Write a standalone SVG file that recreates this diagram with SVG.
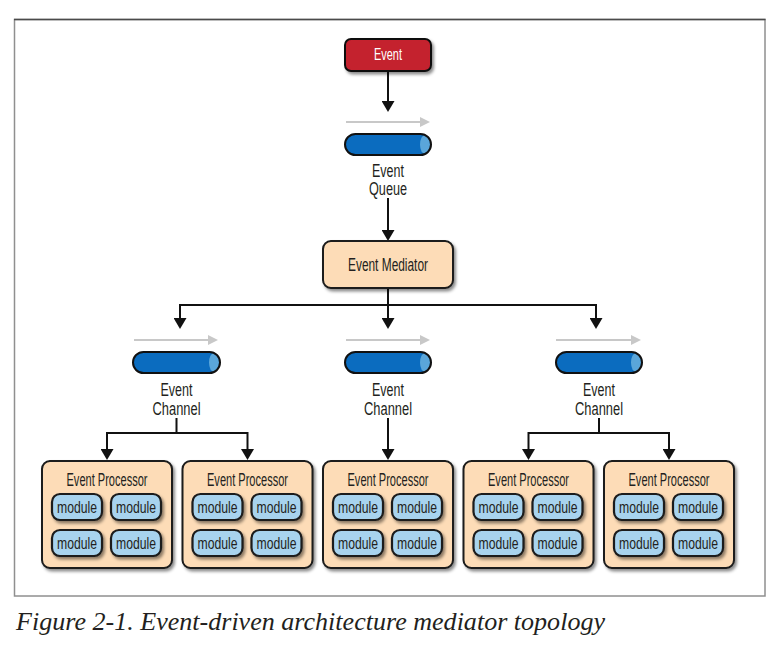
<svg xmlns="http://www.w3.org/2000/svg" width="773" height="649" viewBox="0 0 773 649">
<defs>
<style>
.lbl{font-family:"Liberation Sans",Arial,sans-serif;font-size:17.5px;fill:#231f20;text-anchor:middle}
.wlbl{font-family:"Liberation Sans",Arial,sans-serif;font-size:16px;fill:#ffffff;text-anchor:middle}
.mod{font-family:"Liberation Sans",Arial,sans-serif;font-size:17px;fill:#231f20;text-anchor:middle}
.proc{fill:#fddcb7;stroke:#1a1a1a;stroke-width:2;filter:url(#sh)}
.mbox{fill:#a8d3ee;stroke:#1a1a1a;stroke-width:2.2;filter:url(#sh)}
.cyl{fill:#0b6cbf}
.cap{fill:#5aa6da}
.cylo{fill:none;stroke:#111;stroke-width:2}
.con{fill:none;stroke:#111;stroke-width:2}
.flow{fill:none;stroke:#c8c8c8;stroke-width:2.2}
.cap2{font-family:"Liberation Serif","Times New Roman",serif;font-style:italic;font-size:25px;fill:#231f20}
</style>
<filter id="sh" x="-20%" y="-20%" width="150%" height="160%">
<feDropShadow dx="2" dy="2.5" stdDeviation="1.8" flood-color="#000" flood-opacity="0.45"/>
</filter>
<marker id="ah" viewBox="0 0 11 13" refX="0" refY="6.5" markerWidth="11" markerHeight="13" markerUnits="userSpaceOnUse" orient="auto">
<path d="M0,0 L11,6.5 L0,13 z" fill="#111"/>
</marker>
<marker id="gh" viewBox="0 0 10 10" refX="0" refY="5" markerWidth="10" markerHeight="10" markerUnits="userSpaceOnUse" orient="auto">
<path d="M0,0 L10,5 L0,10 z" fill="#c8c8c8"/>
</marker>
</defs>
<rect x="0" y="0" width="773" height="649" fill="#ffffff"/>
<rect x="14.5" y="19.5" width="750.5" height="576.5" fill="#ffffff" stroke="#8f8f8f" stroke-width="1.5"/>
<line x1="14" y1="19.5" x2="765.5" y2="19.5" stroke="#4a4a4a" stroke-width="1.5"/>

<g id="connectors">
<path class="con" d="M388 71 V101" marker-end="url(#ah)"/>
<path class="con" d="M388 198 V230" marker-end="url(#ah)"/>
<path class="con" d="M388 288 V305 M180 305 H596"/>
<path class="con" d="M180 304 V318" marker-end="url(#ah)"/>
<path class="con" d="M388 305 V318" marker-end="url(#ah)"/>
<path class="con" d="M596 304 V318" marker-end="url(#ah)"/>
<path class="con" d="M176.5 418 V433 M107 433 H247.5"/>
<path class="con" d="M107 432 V449" marker-end="url(#ah)"/>
<path class="con" d="M247.5 432 V449" marker-end="url(#ah)"/>
<path class="con" d="M388 418 V449" marker-end="url(#ah)"/>
<path class="con" d="M599 418 V433 M528.5 433 H669"/>
<path class="con" d="M528.5 432 V449" marker-end="url(#ah)"/>
<path class="con" d="M669 432 V449" marker-end="url(#ah)"/>
<path class="flow" d="M346 122 H420" marker-end="url(#gh)"/>
<path class="flow" d="M134 340 H208" marker-end="url(#gh)"/>
<path class="flow" d="M346 340 H420" marker-end="url(#gh)"/>
<path class="flow" d="M556 340 H631" marker-end="url(#gh)"/>
</g>

<g id="event">
<rect x="345" y="39" width="86" height="32" rx="6" fill="#c4202e" stroke="#111" stroke-width="2" filter="url(#sh)"/>
<text class="wlbl" x="388" y="60" textLength="28" lengthAdjust="spacingAndGlyphs">Event</text>
</g>

<g id="event-queue">
<rect class="cyl" x="345" y="134" width="86" height="21" rx="10.5"/>
<ellipse class="cap" cx="425" cy="144.5" rx="5" ry="9.5"/>
<rect class="cylo" x="345" y="134" width="86" height="21" rx="10.5"/>
<text class="lbl" x="388" y="176.5" textLength="32" lengthAdjust="spacingAndGlyphs">Event</text>
<text class="lbl" x="388" y="195" textLength="38" lengthAdjust="spacingAndGlyphs">Queue</text>
</g>

<g id="event-mediator">
<rect class="proc" x="323" y="241" width="130" height="47" rx="8"/>
<text class="lbl" x="388" y="271" textLength="80" lengthAdjust="spacingAndGlyphs">Event Mediator</text>
</g>

<g id="channel-1">
<rect class="cyl" x="133" y="352" width="87" height="21" rx="10.5"/>
<ellipse class="cap" cx="214" cy="362.5" rx="5" ry="9.5"/>
<rect class="cylo" x="133" y="352" width="87" height="21" rx="10.5"/>
<text class="lbl" x="176.5" y="395.5" textLength="32" lengthAdjust="spacingAndGlyphs">Event</text>
<text class="lbl" x="176.5" y="414.5" textLength="48" lengthAdjust="spacingAndGlyphs">Channel</text>
</g>

<g id="channel-2">
<rect class="cyl" x="345" y="352" width="86" height="21" rx="10.5"/>
<ellipse class="cap" cx="425" cy="362.5" rx="5" ry="9.5"/>
<rect class="cylo" x="345" y="352" width="86" height="21" rx="10.5"/>
<text class="lbl" x="388" y="395.5" textLength="32" lengthAdjust="spacingAndGlyphs">Event</text>
<text class="lbl" x="388" y="414.5" textLength="48" lengthAdjust="spacingAndGlyphs">Channel</text>
</g>

<g id="channel-3">
<rect class="cyl" x="556" y="352" width="86" height="21" rx="10.5"/>
<ellipse class="cap" cx="636" cy="362.5" rx="5" ry="9.5"/>
<rect class="cylo" x="556" y="352" width="86" height="21" rx="10.5"/>
<text class="lbl" x="599" y="395.5" textLength="32" lengthAdjust="spacingAndGlyphs">Event</text>
<text class="lbl" x="599" y="414.5" textLength="48" lengthAdjust="spacingAndGlyphs">Channel</text>
</g>

<g id="processor-1">
<rect class="proc" x="42" y="461" width="130" height="107" rx="8"/>
<text class="lbl" x="107" y="485.5" textLength="81" lengthAdjust="spacingAndGlyphs">Event Processor</text>
<rect class="mbox" x="52" y="494" width="50" height="26" rx="8"/>
<rect class="mbox" x="111" y="494" width="50" height="26" rx="8"/>
<rect class="mbox" x="52" y="530" width="50" height="26" rx="8"/>
<rect class="mbox" x="111" y="530" width="50" height="26" rx="8"/>
<text class="mod" x="77" y="513" textLength="40" lengthAdjust="spacingAndGlyphs">module</text>
<text class="mod" x="136" y="513" textLength="40" lengthAdjust="spacingAndGlyphs">module</text>
<text class="mod" x="77" y="549" textLength="40" lengthAdjust="spacingAndGlyphs">module</text>
<text class="mod" x="136" y="549" textLength="40" lengthAdjust="spacingAndGlyphs">module</text>
</g>

<g id="processor-2">
<rect class="proc" x="182.5" y="461" width="130" height="107" rx="8"/>
<text class="lbl" x="247.5" y="485.5" textLength="81" lengthAdjust="spacingAndGlyphs">Event Processor</text>
<rect class="mbox" x="192.5" y="494" width="50" height="26" rx="8"/>
<rect class="mbox" x="251.5" y="494" width="50" height="26" rx="8"/>
<rect class="mbox" x="192.5" y="530" width="50" height="26" rx="8"/>
<rect class="mbox" x="251.5" y="530" width="50" height="26" rx="8"/>
<text class="mod" x="217.5" y="513" textLength="40" lengthAdjust="spacingAndGlyphs">module</text>
<text class="mod" x="276.5" y="513" textLength="40" lengthAdjust="spacingAndGlyphs">module</text>
<text class="mod" x="217.5" y="549" textLength="40" lengthAdjust="spacingAndGlyphs">module</text>
<text class="mod" x="276.5" y="549" textLength="40" lengthAdjust="spacingAndGlyphs">module</text>
</g>

<g id="processor-3">
<rect class="proc" x="323" y="461" width="130" height="107" rx="8"/>
<text class="lbl" x="388" y="485.5" textLength="81" lengthAdjust="spacingAndGlyphs">Event Processor</text>
<rect class="mbox" x="333" y="494" width="50" height="26" rx="8"/>
<rect class="mbox" x="392" y="494" width="50" height="26" rx="8"/>
<rect class="mbox" x="333" y="530" width="50" height="26" rx="8"/>
<rect class="mbox" x="392" y="530" width="50" height="26" rx="8"/>
<text class="mod" x="358" y="513" textLength="40" lengthAdjust="spacingAndGlyphs">module</text>
<text class="mod" x="417" y="513" textLength="40" lengthAdjust="spacingAndGlyphs">module</text>
<text class="mod" x="358" y="549" textLength="40" lengthAdjust="spacingAndGlyphs">module</text>
<text class="mod" x="417" y="549" textLength="40" lengthAdjust="spacingAndGlyphs">module</text>
</g>

<g id="processor-4">
<rect class="proc" x="463.5" y="461" width="130" height="107" rx="8"/>
<text class="lbl" x="528.5" y="485.5" textLength="81" lengthAdjust="spacingAndGlyphs">Event Processor</text>
<rect class="mbox" x="473.5" y="494" width="50" height="26" rx="8"/>
<rect class="mbox" x="532.5" y="494" width="50" height="26" rx="8"/>
<rect class="mbox" x="473.5" y="530" width="50" height="26" rx="8"/>
<rect class="mbox" x="532.5" y="530" width="50" height="26" rx="8"/>
<text class="mod" x="498.5" y="513" textLength="40" lengthAdjust="spacingAndGlyphs">module</text>
<text class="mod" x="557.5" y="513" textLength="40" lengthAdjust="spacingAndGlyphs">module</text>
<text class="mod" x="498.5" y="549" textLength="40" lengthAdjust="spacingAndGlyphs">module</text>
<text class="mod" x="557.5" y="549" textLength="40" lengthAdjust="spacingAndGlyphs">module</text>
</g>

<g id="processor-5">
<rect class="proc" x="604" y="461" width="130" height="107" rx="8"/>
<text class="lbl" x="669" y="485.5" textLength="81" lengthAdjust="spacingAndGlyphs">Event Processor</text>
<rect class="mbox" x="614" y="494" width="50" height="26" rx="8"/>
<rect class="mbox" x="673" y="494" width="50" height="26" rx="8"/>
<rect class="mbox" x="614" y="530" width="50" height="26" rx="8"/>
<rect class="mbox" x="673" y="530" width="50" height="26" rx="8"/>
<text class="mod" x="639" y="513" textLength="40" lengthAdjust="spacingAndGlyphs">module</text>
<text class="mod" x="698" y="513" textLength="40" lengthAdjust="spacingAndGlyphs">module</text>
<text class="mod" x="639" y="549" textLength="40" lengthAdjust="spacingAndGlyphs">module</text>
<text class="mod" x="698" y="549" textLength="40" lengthAdjust="spacingAndGlyphs">module</text>
</g>

<text class="cap2" x="16" y="629.5" textLength="589" lengthAdjust="spacingAndGlyphs">Figure 2-1. Event-driven architecture mediator topology</text>
</svg>
